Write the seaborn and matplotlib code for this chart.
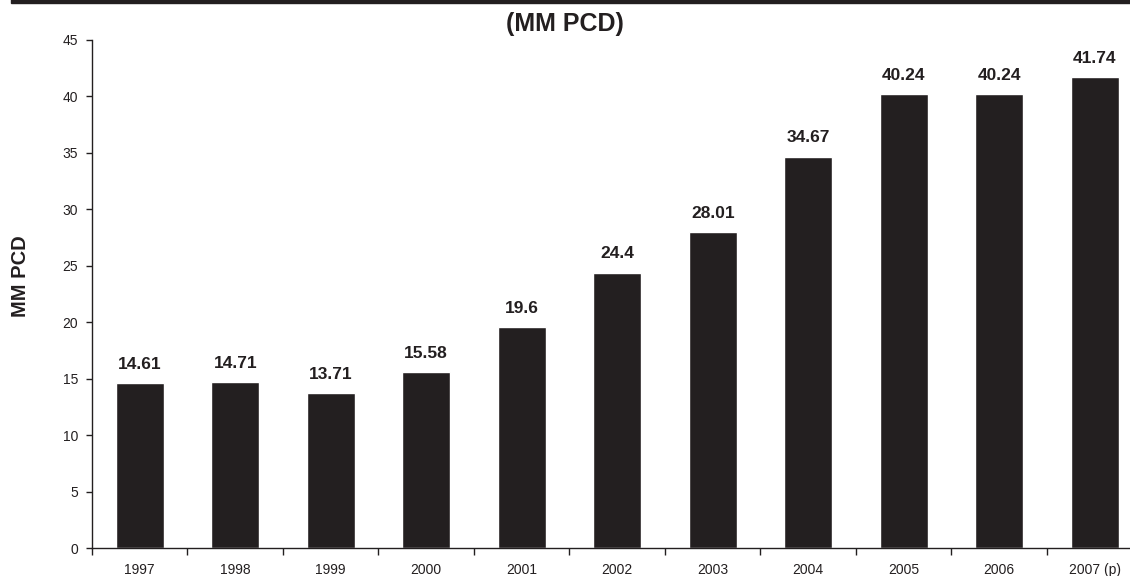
import pandas as pd
import numpy as np
import matplotlib.pyplot as plt
import seaborn as sns
from matplotlib.ticker import FixedLocator

# datos del grafico
anios = ["1997", "1998", "1999", "2000", "2001", "2002", "2003", "2004", "2005", "2006", "2007 (p)"]
valores = [14.61, 14.71, 13.71, 15.58, 19.6, 24.4, 28.01, 34.67, 40.24, 40.24, 41.74]
etiquetas = ["14.61", "14.71", "13.71", "15.58", "19.6", "24.4", "28.01", "34.67", "40.24", "40.24", "41.74"]

sns.set_style("white")
plt.rcParams['font.family'] = ['Liberation Sans', 'DejaVu Sans']

df = pd.DataFrame({'anio': anios, 'valor': valores})

fig = plt.figure(figsize=(11.3, 5.76), dpi=100)
ax = fig.add_axes([0.0814, 0.0486, 0.9296, 0.882])

sns.barplot(data=df, x='anio', y='valor', color='#231f20', saturation=1, width=0.5, ax=ax)

# etiquetas de valores
for i, (v, t) in enumerate(zip(valores, etiquetas)):
    ax.annotate(t, (i, v), xytext=(0, 8), textcoords='offset points',
                ha='center', va='bottom', fontsize=12.5, fontweight='bold', color='#231f20')

ax.set_xlim(-0.5, 10.5)
ax.set_ylim(0, 45)
ax.set_yticks(np.arange(0, 46, 5))
ax.xaxis.set_minor_locator(FixedLocator(np.arange(-0.5, 11, 1)))
ax.tick_params(axis='x', which='major', length=0, labelsize=10, pad=11, colors='#231f20')
ax.tick_params(axis='x', which='minor', length=5, width=1, color='#231f20', direction='out', bottom=True)
ax.tick_params(axis='y', length=4, width=1, labelsize=10, pad=6, colors='#231f20', direction='out', left=True)

for s in ['top', 'right']:
    ax.spines[s].set_visible(False)
for s in ['left', 'bottom']:
    ax.spines[s].set_color('#231f20')
    ax.spines[s].set_linewidth(1)

ax.set_xlabel("")
ax.set_ylabel("")
fig.text(20 / 1130, 1 - 276 / 576, "MM PCD", rotation=90, ha='center', va='center',
         fontsize=14.5, fontweight='bold', color='#231f20')

fig.text(0.5, 1 - 24 / 576, "(MM PCD)", ha='center', va='center', fontsize=18, fontweight='bold', color='#231f20')

# linea negra superior
fig.add_artist(plt.Rectangle((0.0097, 0.995), 0.995, 0.01, transform=fig.transFigure,
                             color='#231f20', clip_on=False))

fig.savefig("out.png", dpi=100)
